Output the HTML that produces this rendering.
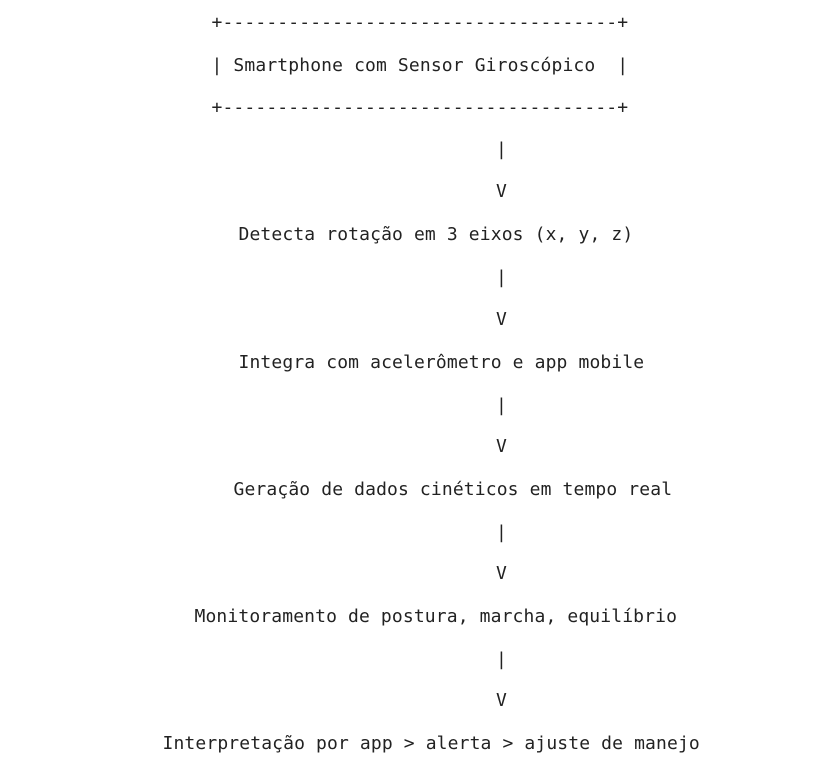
<!DOCTYPE html>
<html><head><meta charset="utf-8"><style>
html,body{margin:0;padding:0;background:#fff;width:839px;height:766px;overflow:hidden}
.l{position:absolute;font-family:"DejaVu Sans Mono","Liberation Mono",monospace;font-size:18px;letter-spacing:0.13px;line-height:22px;color:#222;white-space:pre}
</style></head><body>
<div class="l" style="left:211.5px;top:11.5px">+------------------------------------+</div>
<div class="l" style="left:211.5px;top:54.5px">| Smartphone com Sensor Giroscópico  |</div>
<div class="l" style="left:211.5px;top:96.5px">+------------------------------------+</div>
<div class="l" style="left:496px;top:138.5px">|</div>
<div class="l" style="left:496px;top:180.5px">V</div>
<div class="l" style="left:238.5px;top:223.5px">Detecta rotação em 3 eixos (x, y, z)</div>
<div class="l" style="left:496px;top:266.5px">|</div>
<div class="l" style="left:496px;top:308.5px">V</div>
<div class="l" style="left:238.5px;top:351.5px">Integra com acelerômetro e app mobile</div>
<div class="l" style="left:496px;top:394.5px">|</div>
<div class="l" style="left:496px;top:435.5px">V</div>
<div class="l" style="left:233.5px;top:478.5px">Geração de dados cinéticos em tempo real</div>
<div class="l" style="left:496px;top:521.5px">|</div>
<div class="l" style="left:496px;top:562.5px">V</div>
<div class="l" style="left:194.5px;top:605.5px">Monitoramento de postura, marcha, equilíbrio</div>
<div class="l" style="left:496px;top:648.5px">|</div>
<div class="l" style="left:496px;top:689.5px">V</div>
<div class="l" style="left:162.5px;top:732.5px">Interpretação por app &gt; alerta &gt; ajuste de manejo</div>
</body></html>
